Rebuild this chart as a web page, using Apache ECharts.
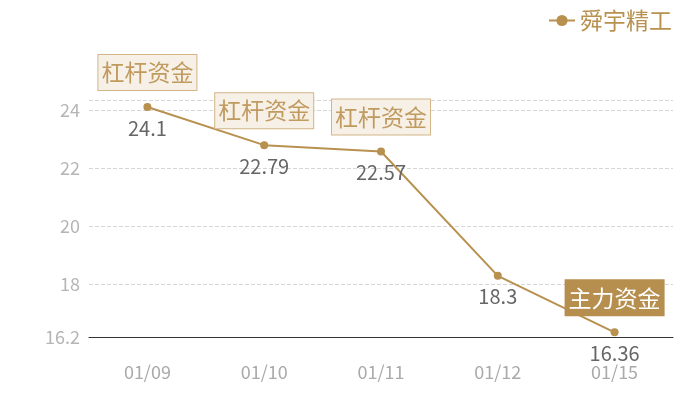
<!DOCTYPE html>
<html>
<head>
<meta charset="utf-8">
<script src="https://cdn.jsdelivr.net/npm/echarts@6/dist/echarts.min.js"></script>
<style>
  html, body { margin: 0; padding: 0; background: #fff; }
  #chart { width: 700px; height: 400px; }
</style>
</head>
<body>
<div id="chart"></div>
<script>
const dates = ["01/09", "01/10", "01/11", "01/12", "01/15"]
const prices = [24.1, 22.79, 22.57, 18.3, 16.36]
// 每个点上方的资金标签, 空字符串表示不显示
const notes = ["杠杆资金", "杠杆资金", "杠杆资金", "", "主力资金"]
const seriesName = "舜宇精工"

const gold = "#b8914f"
const font = "Noto Sans CJK SC"

const noteBox = {
  fontSize: 23,
  lineHeight: 27,
  padding: [4, 3],
  color: "#c09a5e",
  backgroundColor: "#f6f0e7",
  borderColor: "#d3b588",
  borderWidth: 1
}
const mainBox = {
  fontSize: 23,
  lineHeight: 27,
  padding: [4, 3],
  color: "#fff",
  backgroundColor: "#b68e4e",
  borderColor: "#b68e4e",
  borderWidth: 1
}

const markData = []
notes.forEach((n, i) => {
  if (!n) return
  markData.push({
    coord: [i, prices[i]],
    value: n,
    label: n === "主力资金" ? mainBox : noteBox
  })
})

const myChart = echarts.init(document.getElementById("chart"))
myChart.setOption({
  animation: false,
  textStyle: { fontFamily: font },
  grid: { left: 89, right: 27, top: 100, bottom: 63 },
  legend: {
    data: [seriesName],
    right: 23,
    top: 4,
    itemWidth: 26,
    itemHeight: 14,
    itemGap: 10,
    textStyle: { color: "#b8914f", fontSize: 23, fontFamily: font }
  },
  xAxis: {
    type: "category",
    data: dates,
    axisLine: { lineStyle: { color: "#333", width: 1 } },
    axisTick: { show: false },
    axisLabel: { color: "#aaa", fontSize: 18, margin: 26 }
  },
  yAxis: {
    type: "value",
    min: 16.2,
    max: 24.34,
    axisLine: { show: false },
    axisTick: { show: false },
    axisLabel: {
      color: "#b5b5b5",
      fontSize: 18,
      margin: 9,
      showMaxLabel: false,
      formatter: v => Math.round(v * 10) / 10
    },
    splitLine: { lineStyle: { color: "#d6d6d6", type: "dashed" } }
  },
  series: [{
    name: seriesName,
    type: "line",
    data: prices,
    symbol: "circle",
    symbolSize: 8,
    itemStyle: { color: gold },
    lineStyle: { color: gold, width: 2 },
    label: {
      show: true,
      position: "bottom",
      distance: 7,
      color: "#666",
      fontSize: 20
    },
    markPoint: {
      symbol: "circle",
      symbolSize: 0,
      label: {
        show: true,
        position: "top",
        distance: 17,
        formatter: p => p.value
      },
      data: markData
    }
  }]
})
</script>
</body>
</html>
